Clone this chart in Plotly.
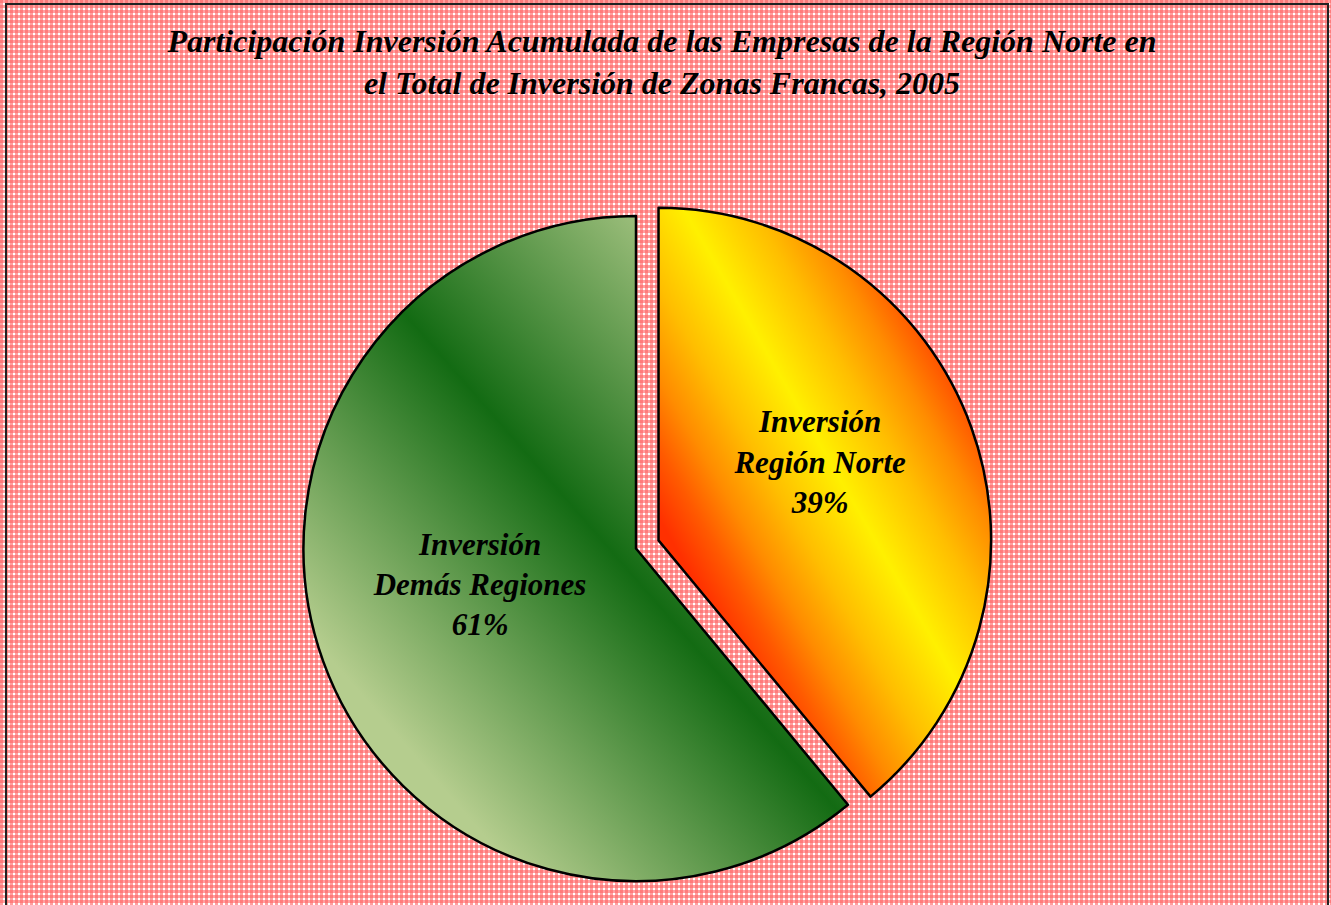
import plotly.graph_objects as go

# ---- data ----
labels = ["Inversión<br>Región Norte", "Inversión<br>Demás Regiones"]
values = [39, 61]
slice_colors = ["#ffb000", "#4a8a35"]
title_lines = [
    "Participación Inversión Acumulada de las Empresas de la Región Norte en",
    "el Total de Inversión de Zonas Francas, 2005",
]

# ---- layout geometry ----
W, H = 1331, 905
ML, MR, MT, MB = 0, 59, 192, 0
PW, PH = W - ML - MR, H - MT - MB
SERIF = "Times New Roman, Liberation Serif, serif"

fig = go.Figure(
    go.Pie(
        labels=labels,
        values=values,
        sort=False,
        direction="clockwise",
        rotation=0,
        pull=[0.072, 0],
        marker=dict(colors=slice_colors, line=dict(color="black", width=2.5)),
        texttemplate="%{label}<br>%{percent:.0%}<br> ",
        textposition="inside",
        insidetextorientation="horizontal",
        textfont=dict(family=SERIF, size=31, color="black", weight="bold", style="italic"),
        hoverinfo="label+percent",
        showlegend=False,
    )
)

fig.update_layout(
    width=W,
    height=H,
    margin=dict(l=ML, r=MR, t=MT, b=MB, autoexpand=False),
    paper_bgcolor="#ffa8a8",
    plot_bgcolor="rgba(0,0,0,0)",
    title=dict(
        text="<b><i>" + "<br>".join(title_lines) + "</i></b>",
        x=662 / W,
        xanchor="center",
        xref="container",
        y=1 - 52 / H,
        yanchor="top",
        yref="container",
        font=dict(family=SERIF, size=32, color="black"),
    ),
)

# outer frame of the chart area
fig.add_shape(
    type="rect",
    xref="paper",
    yref="paper",
    x0=(6 - ML) / PW,
    x1=(1328 - ML) / PW,
    y0=(H - MB - 930) / PH,
    y1=(H - MB - 4) / PH,
    line=dict(color="#222222", width=2),
    fillcolor="rgba(0,0,0,0)",
    layer="above",
)

post = r"""
var gd = document.getElementById('{plot_id}');
document.body.style.margin = '0';
document.body.style.overflow = 'hidden';
var NS = 'http://www.w3.org/2000/svg';
var svg = gd.querySelector('.main-svg');
var tile = '<svg xmlns="http://www.w3.org/2000/svg" width="5" height="5">' +
  '<rect width="5" height="5" fill="#ffffff"/>' +
  '<rect width="5" height="3" fill="#ffa0a0"/>' +
  '<rect width="3" height="5" fill="#ffa0a0"/>' +
  '<rect width="3" height="3" fill="#ff7c7c"/></svg>';
svg.style.background = 'url("data:image/svg+xml,' + encodeURIComponent(tile) + '")';

var defs = document.createElementNS(NS, 'defs');
svg.insertBefore(defs, svg.firstChild);
function grad(id, p0, p1, stops) {
  var g = document.createElementNS(NS, 'linearGradient');
  g.setAttribute('id', id);
  g.setAttribute('gradientUnits', 'userSpaceOnUse');
  g.setAttribute('x1', p0[0]); g.setAttribute('y1', p0[1]);
  g.setAttribute('x2', p1[0]); g.setAttribute('y2', p1[1]);
  stops.forEach(function(s) {
    var st = document.createElementNS(NS, 'stop');
    st.setAttribute('offset', s[0]);
    st.setAttribute('stop-color', s[1]);
    g.appendChild(st);
  });
  defs.appendChild(g);
}
var paths = gd.querySelectorAll('g.slice path.surface');
if (paths.length >= 2) {
  // orange slice (first)
  var b = paths[0].getBBox();
  var r = b.width, cx = b.x, cy = b.y + r;
  var bx = cx + 0.08 * r, by = cy - 0.99 * r, nx = 0.866, ny = -0.5, d = 0.53 * r;
  grad('gradNorte', [bx - d * nx, by - d * ny], [bx + d * nx, by + d * ny],
       [[0, '#ff3000'], [0.1, '#ff5a00'], [0.2, '#ff8c00'], [0.33, '#ffbe00'], [0.5, '#fff000'],
        [0.67, '#ffbe00'], [0.8, '#ff8c00'], [0.9, '#ff5a00'], [1, '#ff3000']]);
  paths[0].style.fill = 'url(#gradNorte)';
  // green slice (second)
  var b2 = paths[1].getBBox();
  var r2 = b2.height / 2, cx2 = b2.x + r2, cy2 = b2.y + r2;
  var gx = cx2 - 0.728 * r2, gy = cy2 - 0.743 * r2, mx = 0.754, my = -0.657, d2 = 0.85 * r2;
  grad('gradDemas', [gx - d2 * mx, gy - d2 * my], [gx + d2 * mx, gy + d2 * my],
       [[0, '#b5cd8e'], [0.5, '#136b13'], [1, '#b5cd8e']]);
  paths[1].style.fill = 'url(#gradDemas)';
}
"""

fig.write_html("out.html", post_script=post, config={"displayModeBar": False})
